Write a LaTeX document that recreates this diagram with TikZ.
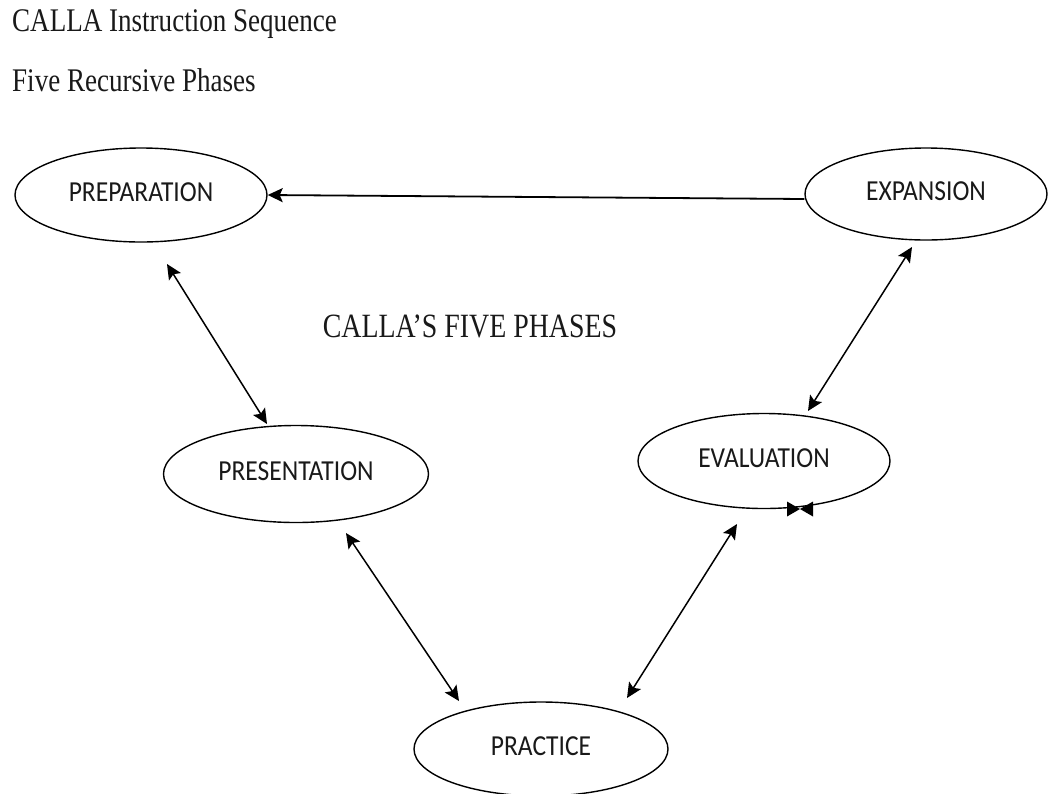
\documentclass[tikz,border=0pt]{standalone}
\usepackage{fontspec}
\usetikzlibrary{shapes.geometric,arrows.meta}
\newfontfamily\headfont[FakeStretch=0.82]{Liberation Serif}
\newfontfamily\phasefont[FakeStretch=0.88]{Carlito}
\begin{document}
\begin{tikzpicture}[x=1pt,y=-1pt,
  phase/.style={draw, ellipse, line width=1.4pt, inner sep=0pt, text depth=5pt,
    font=\phasefont\fontsize{29}{34}\selectfont, text=black!90},
  link/.style={line width=1.5pt, {Stealth[length=15pt,width=14pt,inset=3pt]}-{Stealth[length=15pt,width=14pt,inset=3pt]}},
  heading/.style={font=\headfont\fontsize{33}{40}\selectfont, inner sep=0pt, anchor=base west, text=black!90}]
\useasboundingbox (0,0) rectangle (1049,793);

% headings
\node[heading] (title) at (12,31) {CALLA Instruction Sequence};
\node[heading] (subtitle) at (12,91) {Five Recursive Phases};
\node[font=\headfont\fontsize{34}{40}\selectfont, anchor=base, inner sep=0pt, text=black!90]
  (centre) at (470,337) {CALLA’S FIVE PHASES};

% the five phases
\node[phase, minimum width=252pt, minimum height=94pt] (prep) at (141,195) {PREPARATION};
\node[phase, minimum width=242pt, minimum height=92pt] (expa) at (926,194) {EXPANSION};
\node[phase, minimum width=252pt, minimum height=95pt] (eval) at (764,461) {EVALUATION};
\node[phase, minimum width=265pt, minimum height=97pt] (pres) at (296,474) {PRESENTATION};
\node[phase, minimum width=254pt, minimum height=94pt] (prac) at (541,749) {PRACTICE};

% connector end points
\coordinate (p1) at (167,264);
\coordinate (p2) at (267,424);
\coordinate (e1) at (912,247);
\coordinate (e2) at (808,411);
\coordinate (r1) at (346,533);
\coordinate (r2) at (459,701);
\coordinate (v1) at (737,524);
\coordinate (v2) at (627,698);

% connectors
\draw[line width=1.8pt, -{Stealth[length=15pt,width=14pt,inset=3pt]}]
  ([yshift=-5pt]expa.west) -- (prep.east);
\draw[link] (p1) -- (p2);
\draw[link] (e1) -- (e2);
\draw[link] (r1) -- (r2);
\draw[link] (v1) -- (v2);

% two tips meeting on the lower rim of EVALUATION
\coordinate (knot) at (800,509);
\fill ([shift={(-13pt,7.5pt)}]knot) -- (knot) -- ([shift={(-13pt,-7.5pt)}]knot) -- cycle;
\fill ([shift={(13pt,7.5pt)}]knot) -- (knot) -- ([shift={(13pt,-7.5pt)}]knot) -- cycle;
\end{tikzpicture}
\end{document}
